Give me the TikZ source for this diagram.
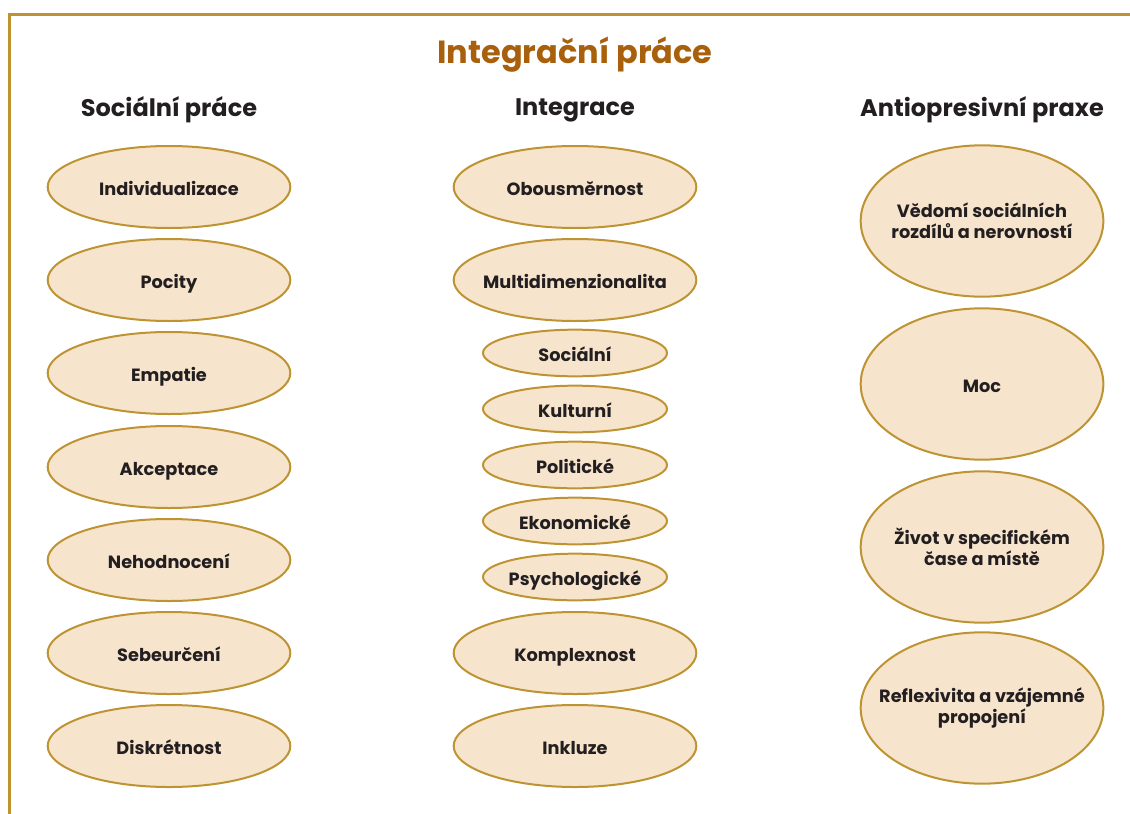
\documentclass[tikz,border=0pt]{standalone}
\usepackage{fontspec}
\setmainfont{Poppins}
\usetikzlibrary{shapes.geometric}
\definecolor{rim}{HTML}{BE9433}
\definecolor{cream}{HTML}{F6E4CD}
\definecolor{rust}{HTML}{A8600C}
\definecolor{ink}{HTML}{231F20}
\begin{document}
\begin{tikzpicture}[x=0.75pt,y=-0.75pt]
\tikzset{every node/.style={font=\bfseries, text=ink},
  bubble/.style={ellipse, draw=rim, fill=cream, line width=1.5pt, inner xsep=-45pt, inner ysep=-12pt,
    minimum width=182pt, minimum height=61.5pt, align=center, text height=13pt, text depth=0pt,
    font=\bfseries\fontsize{13.3}{16}\selectfont},
  smallbubble/.style={bubble, minimum width=138pt, minimum height=35pt},
  tallbubble/.style={bubble, minimum height=113.5pt},
  twoline/.style={text height=, text depth=},
  head/.style={font=\bfseries\fontsize{18}{22}\selectfont}}
\useasboundingbox (0,0) rectangle (1130,813);

% Frame
\draw[rim, line width=1.9pt] (9.5,830) -- (9.5,14.5) -- (1140,14.5);

% Titles
\node[font=\bfseries\fontsize{24}{29}\selectfont, text=rust] at (575,55) (title) {Integrační práce};
\node[head] at (169,110) (hsoc) {Sociální práce};
\node[head] at (575,110) (hint) {Integrace};
\node[head] at (982,110) (hanti) {Antiopresivní praxe};

% Nodes for social work
\node[bubble] at (169,187) (indiv) {Individualizace};
\node[bubble] at (169,280) (pocity) {Pocity};
\node[bubble] at (169,373) (empatie) {Empatie};
\node[bubble] at (169,467) (akcept) {Akceptace};
\node[bubble] at (169,560) (nehod) {Nehodnocení};
\node[bubble] at (169,653) (sebeur) {Sebeurčení};
\node[bubble] at (169,746) (diskr) {Diskrétnost};

% Nodes for integration
\node[bubble] at (575,187) (obous) {Obousměrnost};
\node[bubble] at (575,280) (multi) {Multidimenzionalita};
\node[smallbubble] at (575,353) (soc) {Sociální};
\node[smallbubble] at (575,409) (kult) {Kulturní};
\node[smallbubble] at (575,465) (polit) {Politické};
\node[smallbubble] at (575,521) (ekon) {Ekonomické};
\node[smallbubble] at (575,577) (psych) {Psychologické};
\node[bubble] at (575,653) (kompl) {Komplexnost};
\node[bubble] at (575,746) (inkl) {Inkluze};

% Nodes for anti-oppressive practice
\node[tallbubble, twoline] at (982,221) (vedomi) {Vědomí sociálních\\rozdílů a nerovností};
\node[tallbubble] at (982,384) (moc) {Moc};
\node[tallbubble, twoline] at (982,547) (zivot) {Život v specifickém\\čase a místě};
\node[tallbubble, twoline] at (982,708) (reflex) {Reflexivita a vzájemné\\propojení};
\end{tikzpicture}
\end{document}
